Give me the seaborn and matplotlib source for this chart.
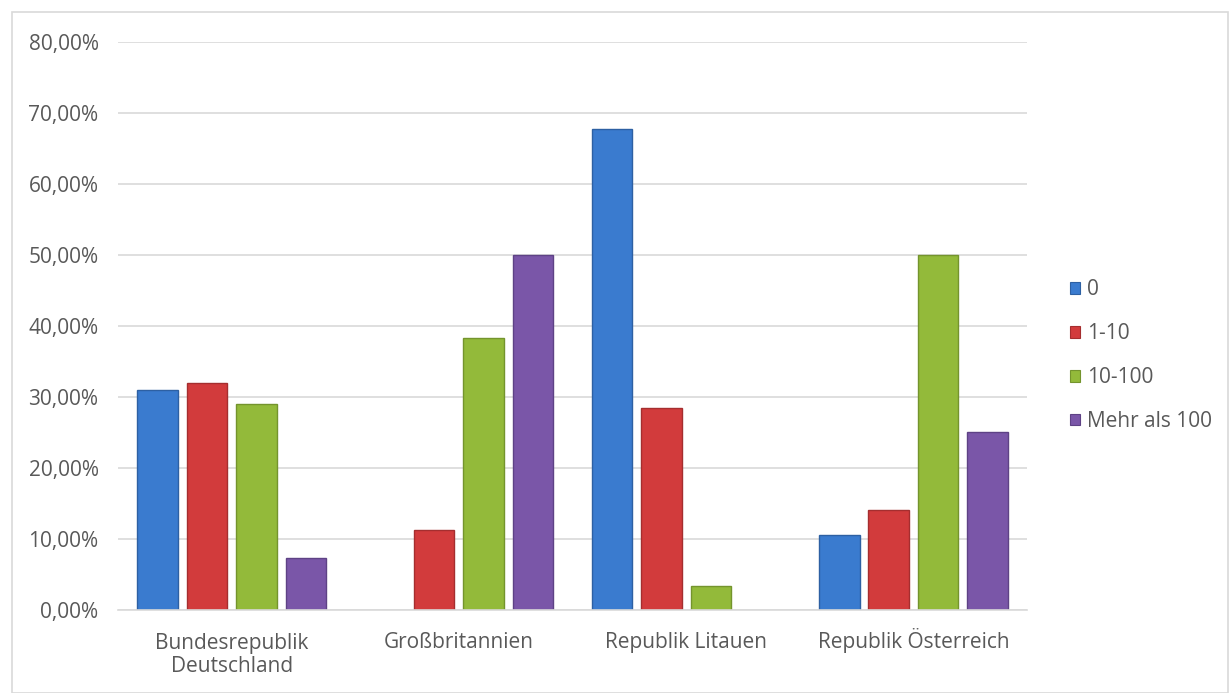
import matplotlib
matplotlib.use("Agg")
import matplotlib.pyplot as plt
import seaborn as sns
import pandas as pd
from matplotlib.patches import Rectangle, Patch
from matplotlib.ticker import FuncFormatter
from matplotlib.transforms import offset_copy

countries = ["Bundesrepublik\nDeutschland", "Großbritannien", "Republik Litauen", "Republik Österreich"]
series = ["0", "1-10", "10-100", "Mehr als 100"]
v_0 = [31.0, 0.0, 67.7, 10.6]
v_1_10 = [32.0, 11.3, 28.5, 14.1]
v_10_100 = [29.0, 38.3, 3.4, 50.0]
v_mehr100 = [7.3, 50.0, 0.0, 25.0]
colors = ["#3A7BCF", "#D23B3C", "#93BA3A", "#7A56A8"]
edge_colors = ["#2D60A3", "#A52E2F", "#74942D", "#5E4285"]

rows = []
for s, vals in zip(series, [v_0, v_1_10, v_10_100, v_mehr100]):
    for c, v in zip(countries, vals):
        rows.append({"Land": c, "Kategorie": s, "Wert": v})
df = pd.DataFrame(rows)

sns.set_theme(style="white")
plt.rcParams['font.family'] = ['Open Sans', 'DejaVu Sans']

fig = plt.figure(figsize=(12.29, 6.93), dpi=100)
ax = fig.add_axes([0.096, 0.1198, 0.7397, 0.8196])

sns.barplot(data=df, x="Land", y="Wert", hue="Kategorie", palette=colors,
            width=0.87, gap=0.18, ax=ax, legend=False, saturation=1)
n = len(countries)
for i, p in enumerate(ax.patches):
    s_idx = i // n
    if s_idx < len(edge_colors):
        p.set_edgecolor(edge_colors[s_idx])
        p.set_linewidth(1.0)
        if p.get_height() == 0:
            p.set_visible(False)

ax.set_ylim(0, 80)
ax.set_yticks(range(0, 81, 10))
ax.yaxis.set_major_formatter(FuncFormatter(lambda v, _: f"{v:.2f}".replace(".", ",") + "%"))
ax.grid(axis="y", color="#D9D9D9", linewidth=1.2)
ax.set_axisbelow(True)
for sp in ["top", "right", "left"]:
    ax.spines[sp].set_visible(False)
ax.spines["bottom"].set_color("#D9D9D9")
ax.spines["bottom"].set_linewidth(1.2)
ax.tick_params(axis="both", length=0, labelsize=15, colors="#595959")
ax.tick_params(axis="y", pad=14)
ax.set_xlabel("")
ax.set_ylabel("")
ax.set_xlim(-0.5, 3.5)

# category labels: first line baseline ~38 px below axis, 24 px line step
ax.set_xticks(range(n))
ax.set_xticklabels([""] * n)
for i, lab in enumerate(countries):
    k = lab.count("\n")
    off_px = 38 + 24 * k
    tr = offset_copy(ax.get_xaxis_transform(), fig=fig, x=0, y=-off_px, units="dots")
    ax.text(i, 0, lab, transform=tr, ha="center", va="baseline", fontsize=15,
            color="#595959", linespacing=1.15, multialignment="center")

handles = [Patch(facecolor=c, edgecolor=e, linewidth=0.8) for c, e in zip(colors, edge_colors)]
leg = fig.legend(handles, series, loc="center left", bbox_to_anchor=(0.8552, 0.487),
                 frameon=False, fontsize=15, labelspacing=1.1, handlelength=0.5,
                 handleheight=0.5, handletextpad=0.35)
for t in leg.get_texts():
    t.set_color("#595959")

fig.patches.append(Rectangle((12/1229, 0.0), 1 - 12/1229 - 0.0005, 1 - 12/693, transform=fig.transFigure,
                             fill=False, edgecolor="#D9D9D9", linewidth=1.2))

fig.savefig("out.png", dpi=100)
